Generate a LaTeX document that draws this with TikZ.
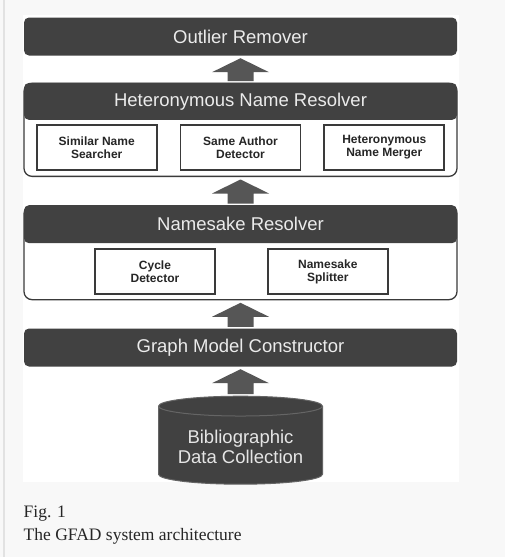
\documentclass[tikz,border=0pt]{standalone}
\usepackage{fontspec}
\setsansfont{Liberation Sans}
\newfontfamily\captionfont{Liberation Serif}
\usetikzlibrary{positioning,calc,shapes.geometric}
\definecolor{slate}{HTML}{414141}
\definecolor{liftgray}{HTML}{565656}
\definecolor{rim}{HTML}{3A3A3A}
\definecolor{rimlight}{HTML}{656565}
\definecolor{pagegray}{HTML}{F8F8F8}
\definecolor{edgegray}{HTML}{E2E2E2}
\definecolor{inkgray}{HTML}{262626}
\tikzset{
    %Define style for the dark layer bars
    bar/.style={
           rectangle,
           rounded corners=5pt,
           fill=slate,
           text=white!92!black,
           font=\sffamily\fontsize{18.5}{20}\selectfont,
           minimum width=433pt,
           minimum height=38pt},
    %Define style for the white trays under the bars
    tray/.style={
           rectangle,
           rounded corners=8pt,
           draw=rim, line width=1.3pt,
           fill=white,
           minimum width=433pt},
    %Define style for the small modules
    module/.style={
           rectangle,
           draw=rim, line width=1.8pt,
           fill=white,
           text=inkgray,
           font=\sffamily\bfseries\fontsize{12}{13}\selectfont,
           align=center,
           minimum width=120pt,
           minimum height=45pt},
    %Define style for the data store
    db/.style={
           cylinder,
           shape border rotate=90,
           aspect=0.15,
           draw=rimlight, line width=1pt,
           cylinder uses custom fill,
           cylinder body fill=slate,
           cylinder end fill=slate,
           text=white!90!black,
           font=\sffamily\fontsize{18.5}{20.5}\selectfont,
           align=center,
           minimum width=164pt,
           minimum height=88pt},
    % Define block arrow style
    lift/.style={
           fill=liftgray,
           to path={let \p1=(\tikztostart), \p2=(\tikztotarget) in
               (\x1-13pt,\y1+1.5pt) -- (\x1-13pt,\y2-16.5pt) -- (\x1-28.5pt,\y2-16.5pt)
               -- (\x1,\y2-2.5pt) -- (\x1+28.5pt,\y2-16.5pt) -- (\x1+13pt,\y2-16.5pt)
               -- (\x1+13pt,\y1+1.5pt) -- cycle}},
    %Define style for the caption lines
    figtext/.style={
           anchor=base west,
           inner sep=0pt,
           text=inkgray,
           font=\captionfont\fontsize{17.5}{20}\selectfont}
}
\begin{document}
\begin{tikzpicture}[x=1pt, y=-1pt]
 %page
    \useasboundingbox (0,0) rectangle (505,557);
    \fill[pagegray] (0,0) rectangle (505,557);
    \draw[edgegray, line width=1.2pt] (4,0) -- (4,557);
    \fill[white] (23,15) rectangle (459,482);
 %nodes
    \node[bar] (outlier) at (240.5,36.5) {Outlier Remover};
    \node[tray, minimum height=93pt, below=27pt of outlier] (hnrtray) {};
    \node[bar, minimum height=37pt, below=0pt of hnrtray.north] (hnr) {Heteronymous Name Resolver};
    \node[module, below=4pt of hnr] (sad) {Same Author\\Detector};
    \node[module, left=22pt of sad] (sns) {Similar Name\\Searcher};
    \node[module, right=22pt of sad] (hnm) {Heteronymous\\Name Merger};
    \node[tray, minimum height=94pt, below=28pt of hnrtray] (nrtray) {};
    \node[bar, below=0pt of nrtray.north] (nr) {Namesake Resolver};
    \node[module, below=5pt of nr.south, xshift=-85.5pt] (cd) {Cycle\\Detector};
    \node[module, right=51pt of cd] (nss) {Namesake\\Splitter};
    \node[bar, below=28pt of nrtray] (gmc) {Graph Model Constructor};
    \node[db, below=29pt of gmc] (bdc) {Bibliographic\\Data Collection};
    \node[figtext] (figno) at (23.5,517) {Fig. 1};
    \node[figtext] (figtitle) at (23.5,540) {The GFAD system architecture};
 %edges
    \path[lift] (hnrtray.north) to (outlier.south);
    \path[lift] (nrtray.north) to (hnrtray.south);
    \path[lift] (gmc.north) to (nrtray.south);
    \path[lift] (bdc.north) to (gmc.south);
\end{tikzpicture}
\end{document}
